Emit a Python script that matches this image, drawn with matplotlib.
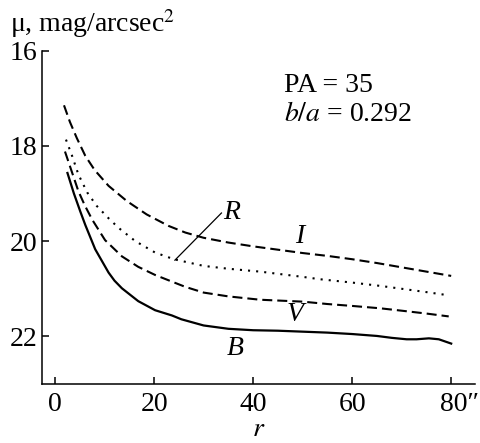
import numpy as np
import matplotlib
matplotlib.use("Agg")
import matplotlib.pyplot as plt
from matplotlib.transforms import ScaledTranslation

plt.rcParams['font.family'] = ['Liberation Serif', 'DejaVu Serif']
plt.rcParams['mathtext.fontset'] = 'stix'

# Surface brightness profiles (mag/arcsec^2) vs radius (arcsec)
r_I = [1.8, 3.0, 4.4, 6.1, 8.0, 10.8, 14.5, 18.5, 22.9, 26.3, 30, 35, 40, 45, 50, 55, 60, 65, 70, 75, 80]
mu_I = [17.15, 17.50, 17.84, 18.21, 18.51, 18.84, 19.16, 19.44, 19.68, 19.82, 19.93, 20.03, 20.11, 20.18,
        20.25, 20.31, 20.38, 20.46, 20.55, 20.64, 20.73]

r_R = [2.2, 3.4, 4.7, 6.5, 8.4, 10.8, 12.8, 16.2, 20.2, 24, 30, 35, 41.4, 50, 53.5, 60, 65.7, 70, 75, 79]
mu_R = [17.87, 18.20, 18.60, 18.98, 19.26, 19.52, 19.72, 20.0, 20.24, 20.38, 20.52, 20.58, 20.64, 20.75,
        20.80, 20.87, 20.94, 21.0, 21.07, 21.13]

r_V = [2.0, 3.4, 4.7, 6.0, 7.5, 10.1, 13.5, 16.8, 20.2, 23.6, 26.3, 30, 35, 41.4, 50, 55, 60, 65.7, 70, 75, 79.5]
mu_V = [18.12, 18.55, 18.95, 19.25, 19.55, 19.98, 20.32, 20.54, 20.71, 20.85, 20.96, 21.08, 21.16, 21.23,
        21.27, 21.32, 21.36, 21.41, 21.46, 21.52, 21.58]

r_B = [2.5, 3.8, 5.1, 6.1, 8.1, 10.8, 12.0, 13.5, 16.8, 20.2, 23.6, 25.5, 30, 35, 40, 45, 50, 55, 60, 65, 68,
       71, 73, 75.5, 77.5, 80]
mu_B = [18.57, 19.0, 19.38, 19.66, 20.17, 20.66, 20.83, 20.99, 21.26, 21.45, 21.56, 21.64, 21.77, 21.84, 21.87,
        21.88, 21.9, 21.92, 21.95, 21.99, 22.03, 22.06, 22.06, 22.04, 22.06, 22.15]

x_ticks = [0, 20, 40, 60, 80]
x_ticklabels = ["0", "20", "40", "60", "80\u2033"]
y_ticks = [16, 18, 20, 22]

fig = plt.figure(figsize=(4.8, 4.43), dpi=100)
ax = fig.add_axes([0.087, 0.133, 0.903, 0.753])

fs = 20

ax.plot(r_I, mu_I, color='black', lw=1.5, ls=(0, (4.8, 2.4)))
ax.plot(r_R, mu_R, color='black', lw=1.5, ls=(0, (1, 2.9)))
ax.plot(r_V, mu_V, color='black', lw=1.5, ls=(0, (4.8, 2.4)))
ax.plot(r_B, mu_B, color='black', lw=1.6, ls='-')

# band labels
ax.text(49.5, 19.91, "I", fontsize=fs, style='italic', ha='center', va='center')
ax.text(35.6, 19.40, "R", fontsize=fs, style='italic', ha='center', va='center')
ax.plot([24.2, 33.6], [20.40, 19.41], color='black', lw=0.9)
ax.text(48.5, 21.55, "V", fontsize=fs, style='italic', ha='center', va='center')
ax.text(36.4, 22.25, "B", fontsize=fs, style='italic', ha='center', va='center')

ax.text(46.2, 16.88, "PA = 35", fontsize=fs, ha='left', va='baseline')
ax.text(46.2, 17.47, "$b/a$ = 0.292", fontsize=fs, ha='left', va='baseline')

ax.set_xlim(-2.69, 84.85)
ax.set_ylim(23.0, 16)
ax.set_xticks(x_ticks)
ax.set_xticklabels(x_ticklabels)
ax.set_yticks(y_ticks)

for side in ['top', 'right']:
    ax.spines[side].set_visible(False)
for side in ['left', 'bottom']:
    ax.spines[side].set_linewidth(1.1)

ax.tick_params(direction='in', length=5, width=1.1, labelsize=fs)
ax.tick_params(axis='x', pad=6)
ax.tick_params(axis='y', pad=3)

# keep the digits of the last label over the tick
last = ax.get_xticklabels()[-1]
last.set_transform(last.get_transform() + ScaledTranslation(6 / 72, 0, fig.dpi_scale_trans))

ax.set_xlabel("$r$", fontsize=fs, labelpad=0)
fig.text(10 / 480, 1 - 32 / 443, "\u03bc, mag/arcsec$^2$", fontsize=fs, ha='left', va='baseline')

fig.savefig("out.png", dpi=100)
